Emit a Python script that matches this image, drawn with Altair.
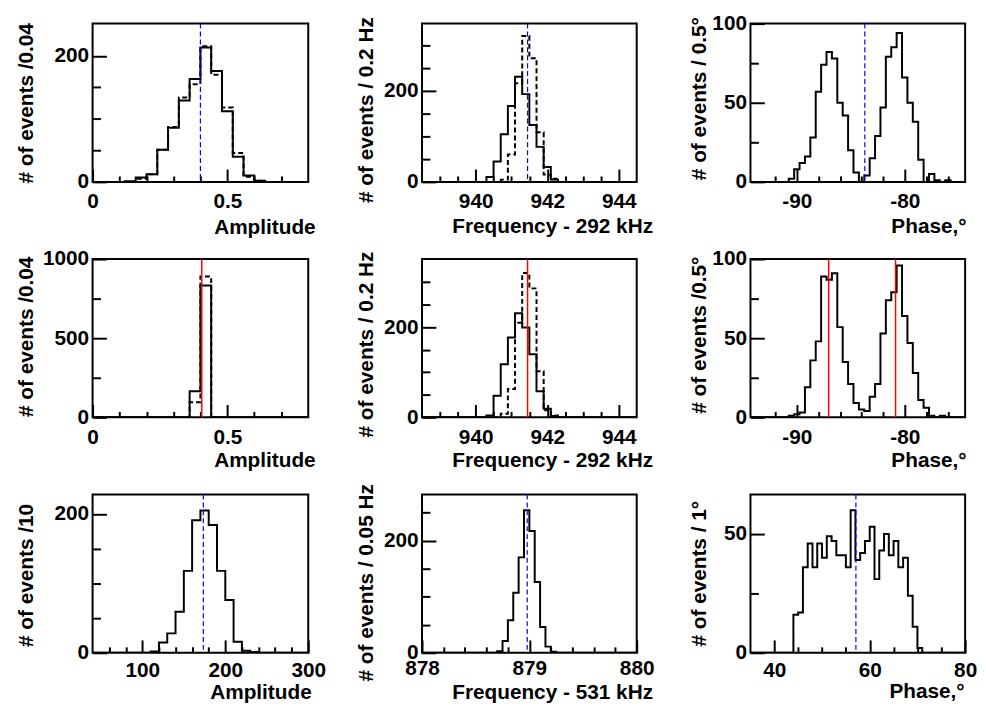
import altair as alt
import pandas as pd

FONT = "Liberation Sans"
LFS = 21   # tick label font size
TFS = 21   # axis title font size

# ---------------- data (bin start, bin width, counts) ----------------
# Row 1
AMP1_SOLID_START, AMP1_WIDTH = 0.12, 0.04
AMP1_SOLID = [1, 7, 12, 51, 86, 129, 163, 213, 176, 112, 40, 10, 2]
AMP1_DASHED_START = 0.16
AMP1_DASHED = [5, 12, 51, 87, 134, 155, 215, 170, 118, 46, 8, 2]
AMP1_LINES = [0.40]

FREQ1_SOLID_START, FREQ1_WIDTH = 940.3, 0.2
FREQ1_SOLID = [11, 45, 105, 167, 231, 193, 125, 77, 33, 5]
FREQ1_DASHED_START = 940.7
FREQ1_DASHED = [5, 60, 217, 321, 272, 109, 16, 7]
FREQ1_LINES = [941.45]

PHASE1_SOLID_START, PHASE1_WIDTH = -90.75, 0.5
PHASE1_SOLID = [2, 8, 12, 16, 28, 57, 74, 82, 78, 50, 42, 20, 6, 0, 4,
                15, 29, 47, 79, 85, 94, 66, 50, 38, 14, 0, 5, 1, 0, 1]
PHASE1_LINES = [-83.7]

# Row 2
AMP2_SOLID_START, AMP2_WIDTH = 0.36, 0.04
AMP2_SOLID = [165, 833]
AMP2_DASHED_START = 0.36
AMP2_DASHED = [96, 890]
AMP2_LINES = [0.405]

FREQ2_SOLID_START, FREQ2_WIDTH = 940.3, 0.2
FREQ2_SOLID = [4, 48, 118, 177, 231, 199, 140, 58, 19, 3]
FREQ2_DASHED_START = 940.7
FREQ2_DASHED = [8, 63, 210, 320, 286, 102, 16, 4]
FREQ2_LINES = [941.45]

PHASE2_SOLID_START, PHASE2_WIDTH = -90.75, 0.5
PHASE2_SOLID = [1, 2, 3, 19, 36, 48, 89, 87, 91, 57, 35, 21, 9, 5, 4,
                13, 21, 53, 74, 79, 96, 64, 47, 28, 11, 6, 1, 0, 1]
PHASE2_LINES = [-87.05, -80.85]

# Row 3
AMP3_SOLID_START, AMP3_WIDTH = 110, 10
AMP3_SOLID = [2, 15, 28, 59, 118, 191, 205, 184, 118, 76, 16, 3, 1]
AMP3_LINES = [173.5]

FREQ3_SOLID_START, FREQ3_WIDTH = 878.70, 0.05
FREQ3_SOLID = [3, 21, 58, 107, 170, 254, 217, 126, 46, 11, 2]
FREQ3_LINES = [878.98]

PHASE3_SOLID_START, PHASE3_WIDTH = 44, 1
PHASE3_SOLID = [16, 17, 36, 46, 36, 46, 40, 49, 47, 41, 41, 36, 60, 39, 42,
                47, 53, 31, 43, 50, 41, 47, 36, 40, 24, 11, 2]
PHASE3_LINES = [57.1]

# axis tick values
AMP_XMAJ, AMP_XMIN = [0, 0.5], [0.1, 0.2, 0.3, 0.4, 0.6, 0.7]
FREQ_XMAJ = [940, 942, 944]
FREQ_XMIN = [939, 939.5, 940.5, 941, 941.5, 942.5, 943, 943.5]
PH_XMAJ, PH_XMIN = [-90, -80], [-92, -88, -86, -84, -82, -78, -76]
AMP3_XMAJ, AMP3_XMIN = [100, 200, 300], [60, 80, 120, 140, 160, 180, 220, 240, 260, 280]
FREQ3_XMAJ = [878, 879, 880]
FREQ3_XMIN = [878.2, 878.4, 878.6, 878.8, 879.2, 879.4, 879.6, 879.8]
PH3_XMAJ, PH3_XMIN = [40, 60, 80], [45, 50, 55, 65, 70, 75]


def steps(start, width, counts, lo, hi):
    xs, ys = [lo], [0]
    for i, c in enumerate(counts):
        xs.append(start + i * width)
        ys.append(c)
    xs.append(start + len(counts) * width)
    ys.append(0)
    xs.append(hi)
    ys.append(0)
    return pd.DataFrame({"x": xs, "y": ys})


H = 160

PANELS = [
    dict(w=218, xdom=[0, 0.8], ydom=[0, 251], xmaj=AMP_XMAJ, xmin=AMP_XMIN,
         ymaj=[0, 200], ymin=[50, 100, 150], xtitle="Amplitude", ytitle="# of events /0.04",
         solid=(AMP1_SOLID_START, AMP1_WIDTH, AMP1_SOLID),
         dashed=(AMP1_DASHED_START, AMP1_WIDTH, AMP1_DASHED),
         lines=AMP1_LINES, red=False, xlp=9, xtdx=7, xtb=52, ytx=-67, yty=-1),
    dict(w=217, xdom=[938.5, 944.5], ydom=[0, 348], xmaj=FREQ_XMAJ, xmin=FREQ_XMIN,
         ymaj=[0, 200], ymin=[50, 100, 150, 250, 300], xtitle="Frequency - 292 kHz",
         ytitle="# of events / 0.2 Hz",
         solid=(FREQ1_SOLID_START, FREQ1_WIDTH, FREQ1_SOLID),
         dashed=(FREQ1_DASHED_START, FREQ1_WIDTH, FREQ1_DASHED),
         lines=FREQ1_LINES, red=False, xlp=9, xtdx=16, xtb=51, ytx=-56, yty=-7),
    dict(w=217, xdom=[-94.3, -74.4], ydom=[0, 100], xmaj=PH_XMAJ, xmin=PH_XMIN,
         ymaj=[0, 50, 100], ymin=[25, 75], xtitle="Phase,°", ytitle="# of events / 0.5°",
         solid=(PHASE1_SOLID_START, PHASE1_WIDTH, PHASE1_SOLID), dashed=None,
         lines=PHASE1_LINES, red=False, xlp=9, xtdx=1, xtb=51, ytx=-51, yty=-7),
    dict(w=218, xdom=[0, 0.8], ydom=[0, 1000], xmaj=AMP_XMAJ, xmin=AMP_XMIN,
         ymaj=[0, 500, 1000], ymin=[250, 750], xtitle="Amplitude", ytitle="# of events /0.04",
         solid=(AMP2_SOLID_START, AMP2_WIDTH, AMP2_SOLID),
         dashed=(AMP2_DASHED_START, AMP2_WIDTH, AMP2_DASHED),
         lines=AMP2_LINES, red=True, xlp=9, xtdx=7, xtb=50, ytx=-67, yty=-3),
    dict(w=217, xdom=[938.5, 944.5], ydom=[0, 351], xmaj=FREQ_XMAJ, xmin=FREQ_XMIN,
         ymaj=[0, 200], ymin=[50, 100, 150, 250, 300], xtitle="Frequency - 292 kHz",
         ytitle="# of events / 0.2 Hz",
         solid=(FREQ2_SOLID_START, FREQ2_WIDTH, FREQ2_SOLID),
         dashed=(FREQ2_DASHED_START, FREQ2_WIDTH, FREQ2_DASHED),
         lines=FREQ2_LINES, red=True, xlp=9, xtdx=16, xtb=50, ytx=-56, yty=-8),
    dict(w=217, xdom=[-94.3, -74.4], ydom=[0, 100], xmaj=PH_XMAJ, xmin=PH_XMIN,
         ymaj=[0, 50, 100], ymin=[25, 75], xtitle="Phase,°", ytitle="# of events /0.5°",
         solid=(PHASE2_SOLID_START, PHASE2_WIDTH, PHASE2_SOLID), dashed=None,
         lines=PHASE2_LINES, red=True, xlp=9, xtdx=1, xtb=50, ytx=-51, yty=-3),
    dict(w=218, xdom=[40, 300], ydom=[0, 228], xmaj=AMP3_XMAJ, xmin=AMP3_XMIN,
         ymaj=[0, 200], ymin=[50, 100, 150], xtitle="Amplitude", ytitle="# of events /10",
         solid=(AMP3_SOLID_START, AMP3_WIDTH, AMP3_SOLID), dashed=None,
         lines=AMP3_LINES, red=False, xlp=7, xtdx=3, xtb=46, ytx=-67, yty=9),
    dict(w=217, xdom=[878, 880], ydom=[0, 282], xmaj=FREQ3_XMAJ, xmin=FREQ3_XMIN,
         ymaj=[0, 200], ymin=[50, 100, 150, 250], xtitle="Frequency - 531 kHz",
         ytitle="# of events / 0.05 Hz",
         solid=(FREQ3_SOLID_START, FREQ3_WIDTH, FREQ3_SOLID), dashed=None,
         lines=FREQ3_LINES, red=False, xlp=5, xtdx=16, xtb=46, ytx=-56, yty=-11),
    dict(w=217, xdom=[35, 80], ydom=[0, 66.6], xmaj=PH3_XMAJ, xmin=PH3_XMIN,
         ymaj=[0, 50], ymin=[25], xtitle="Phase,°", ytitle="# of events / 1°",
         solid=(PHASE3_SOLID_START, PHASE3_WIDTH, PHASE3_SOLID), dashed=None,
         lines=PHASE3_LINES, red=False, xlp=7, xtdx=-1, xtb=45, ytx=-51, yty=6,
         flush=True),
]


def panel(p):
    W = p["w"]
    xs = alt.Scale(domain=p["xdom"], nice=False, zero=False)
    ys = alt.Scale(domain=p["ydom"], nice=False, zero=False)
    common = dict(domain=False, grid=False, tickColor="black", tickWidth=2,
                  labelFont=FONT, labelFontSize=LFS, labelFontWeight="bold",
                  labelColor="black", labelOverlap=False,
                  labelBound=False, labelExpr="toString(datum.value)",
                  titleFont=FONT, titleFontSize=TFS, titleFontWeight="bold",
                  titleColor="black")
    if p.get("flush"):
        xflush = dict(labelFlush=True, labelFlushOffset=3)
    else:
        xflush = dict(labelFlush=False)
    x_major = alt.Axis(orient="bottom", values=p["xmaj"], tickSize=13, offset=-13,
                       labelPadding=p["xlp"], labelBaseline="top", labelAlign="center",
                       title=p["xtitle"], titleAngle=0, titleAlign="right",
                       titleBaseline="alphabetic", titleX=W + p["xtdx"],
                       titleY=p["xtb"] + 13, **xflush, **common)
    y_major = alt.Axis(orient="left", values=p["ymaj"], tickSize=14, offset=-14,
                       labelPadding=4, labelAlign="right", labelBaseline="middle",
                       title=p["ytitle"], titleAngle=270, titleAlign="right",
                       titleBaseline="middle", titleX=p["ytx"] - 14, titleY=p["yty"],
                       labelFlush=False, **common)
    x_minor = alt.Axis(orient="bottom", values=p["xmin"], tickSize=6, offset=-6,
                       labels=False, domain=False, grid=False, tickColor="black",
                       tickWidth=2, title=None)
    y_minor = alt.Axis(orient="left", values=p["ymin"], tickSize=8, offset=-8,
                       labels=False, domain=False, grid=False, tickColor="black",
                       tickWidth=2, title=None)

    df_s = steps(*p["solid"], p["xdom"][0], p["xdom"][1])
    solid = alt.Chart(df_s).mark_line(interpolate="step-after", color="black",
                                      strokeWidth=2, clip=True).encode(
        x=alt.X("x:Q", scale=xs, axis=x_major),
        y=alt.Y("y:Q", scale=ys, axis=y_major))
    minor = alt.Chart(df_s).mark_line(interpolate="step-after", color="black",
                                      strokeWidth=2, clip=True, opacity=0).encode(
        x=alt.X("x:Q", scale=xs, axis=x_minor),
        y=alt.Y("y:Q", scale=ys, axis=y_minor))
    layers = [solid, minor]
    if p["dashed"] is not None:
        df_d = steps(*p["dashed"], p["xdom"][0], p["xdom"][1])
        layers.append(alt.Chart(df_d).mark_line(
            interpolate="step-after", color="black", strokeWidth=2,
            strokeDash=[5, 3], clip=True).encode(
            x=alt.X("x:Q", scale=xs, axis=None),
            y=alt.Y("y:Q", scale=ys, axis=None)))
    df_l = pd.DataFrame({"x": p["lines"]})
    if p["red"]:
        rule = alt.Chart(df_l).mark_rule(color="#ff0000", strokeWidth=1.5)
    else:
        rule = alt.Chart(df_l).mark_rule(color="#0000ff", strokeWidth=1.2,
                                         strokeDash=[5, 3])
    layers.append(rule.encode(x=alt.X("x:Q", scale=xs, axis=None)))
    return alt.layer(*layers).resolve_axis(x="independent", y="independent").properties(
        width=W, height=H)


chart = alt.concat(*[panel(p) for p in PANELS], columns=3,
                   spacing={"row": 78, "column": 115}, bounds="flush").configure_view(
    stroke="black", strokeWidth=2).properties(
    background="white", padding={"left": 6.5, "top": 0, "right": 0, "bottom": 0})

chart.save("out.html", embed_options={"renderer": "svg", "actions": False})
